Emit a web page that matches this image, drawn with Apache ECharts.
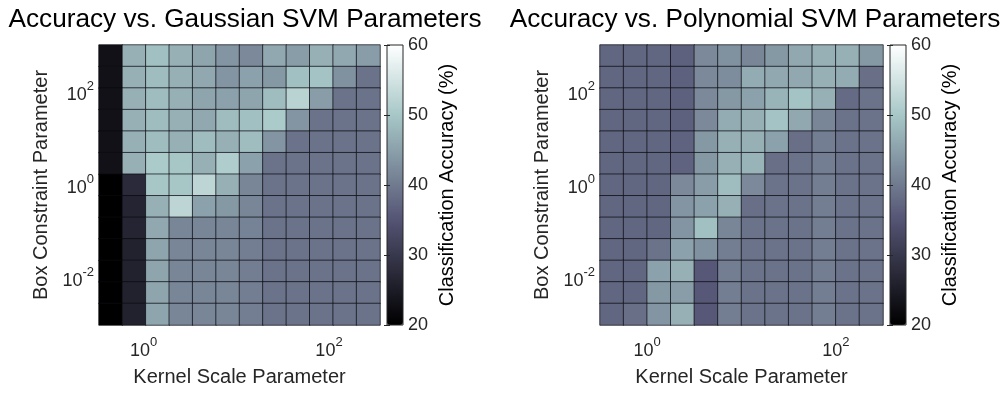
<!DOCTYPE html>
<html><head><meta charset="utf-8">
<script src="https://cdn.jsdelivr.net/npm/echarts@6/dist/echarts.min.js"></script>
<style>html,body{margin:0;padding:0;background:#fff}#c{width:1007px;height:393px}</style>
</head><body><div id="c"></div>
<script>
// ---- data ----
// kernel scale (cell centres)
const kernelScale = ['0.42','0.75','1.3','2.4','4.2','7.5','13','24','42','75','133','237'];
// box constraint (cell centres, bottom -> top)
const boxConstraint = ['0.0017','0.0049','0.014','0.041','0.12','0.35','1','2.9','8.4','24','70','203','588'];
const kernelRangeGauss = [-0.48, 2.55];   // log10 extent of kernel scale axis (left plot)
const kernelRangePoly = [-0.5, 2.5];      // log10 extent of kernel scale axis (right plot)
const boxRange = [-3, 3];                 // log10 extent of box constraint axis
const xTickExps = [0, 2];
const yTickExps = [-2, 0, 2];
const colorbarTicks = [20, 30, 40, 50, 60];

// Gaussian SVM accuracy (%) rows top (largest box constraint) -> bottom
const gaussRow0  = [23, 47, 49, 47, 45.5, 43.5, 42, 46, 44.5, 47, 46, 44.5];
const gaussRow1  = [23, 47, 48.5, 47, 46, 43.5, 45, 44, 49, 49.5, 43, 39];
const gaussRow2  = [23, 47, 48.5, 47, 45.5, 45, 45.5, 48.5, 52, 44.5, 39, 39];
const gaussRow3  = [23, 47, 48.5, 47, 46, 48.5, 49, 50.5, 43.5, 39, 39, 39];
const gaussRow4  = [23, 47, 48.5, 47, 48.5, 47, 48.5, 43.5, 39, 39, 39, 39];
const gaussRow5  = [23, 47, 50.5, 50, 47, 51, 45, 39, 39, 39, 39, 39];
const gaussRow6  = [20, 27.5, 50, 50, 52.5, 47, 41.5, 39, 39, 39, 39, 39];
const gaussRow7  = [20, 26.5, 47, 52.5, 45, 44, 41.5, 39, 39, 39, 39, 39];
const gaussRow8  = [20, 26.5, 46, 41.5, 41.5, 41.5, 41, 39, 39, 39, 39, 39];
const gaussRow9  = [20, 26, 45.5, 41.5, 41.5, 41.5, 40.5, 39, 39, 39, 39, 39];
const gaussRow10 = [20, 26, 45.5, 41.5, 41.5, 41.5, 40.5, 39, 39, 39, 39, 39];
const gaussRow11 = [20, 26, 45.5, 41.5, 41.5, 41.5, 40.5, 39, 39, 39, 39, 39];
const gaussRow12 = [20, 26, 45.5, 41.5, 41.5, 41.5, 40.5, 39, 39, 39, 39, 39];

// Polynomial SVM accuracy (%) rows top -> bottom
const polyRow0  = [37.5, 37.5, 37.5, 36.8, 42, 43, 41.5, 44, 46, 47, 47, 44];
const polyRow1  = [37.5, 37.5, 37.5, 36.8, 42, 42.5, 46.5, 46, 46, 47, 46.5, 38.5];
const polyRow2  = [37.5, 37.5, 37.5, 36.8, 42, 44, 45, 47.5, 49.5, 47, 38, 39];
const polyRow3  = [37.5, 37.5, 37.5, 36.8, 42, 46.5, 47, 49.5, 46, 41.5, 39, 39];
const polyRow4  = [37.5, 37.5, 37.5, 37, 44, 47, 47, 45, 38.5, 40.5, 39, 39];
const polyRow5  = [37.5, 37.5, 37.5, 37, 44, 47, 47.5, 38.5, 39, 40.5, 39, 39];
const polyRow6  = [37.5, 37.5, 37.5, 42, 44.5, 48.5, 42, 39, 39, 40.5, 39, 39];
const polyRow7  = [37.5, 37.5, 37.5, 43.5, 45, 47, 38.5, 39, 39, 40.5, 39, 39];
const polyRow8  = [37.5, 37.5, 37.5, 43.5, 49, 41.5, 39, 39, 39, 40.5, 39, 39];
const polyRow9  = [37.5, 37.5, 39, 45, 43, 40.5, 39, 39, 39, 40.5, 39, 39];
const polyRow10 = [37.5, 37.5, 45, 47, 35.5, 40.5, 39, 39, 39, 40.5, 39, 39];
const polyRow11 = [37.5, 37.5, 44, 44.5, 35.5, 40.5, 39, 39, 39, 40.5, 39, 39];
const polyRow12 = [37.5, 38.5, 43.5, 47, 35.5, 40.5, 39, 39, 39, 40.5, 39, 39];

const gaussRows = [gaussRow0,gaussRow1,gaussRow2,gaussRow3,gaussRow4,gaussRow5,gaussRow6,gaussRow7,gaussRow8,gaussRow9,gaussRow10,gaussRow11,gaussRow12];
const polyRows = [polyRow0,polyRow1,polyRow2,polyRow3,polyRow4,polyRow5,polyRow6,polyRow7,polyRow8,polyRow9,polyRow10,polyRow11,polyRow12];

// ---- helpers ----
function toCells(rows) {
  const out = [];
  const n = rows.length;
  rows.forEach((row, r) => row.forEach((v, c) => out.push([c, n - 1 - r, v])));
  return out;
}
// MATLAB "bone" colormap
function bone(t) {
  const hr = Math.min(1, t / 0.375);
  const hg = Math.min(1, Math.max(0, (t - 0.375) / 0.375));
  const hb = Math.min(1, Math.max(0, (t - 0.75) / 0.25));
  const f = x => Math.round(Math.min(1, x) * 255);
  return 'rgb(' + f((7 * t + hb) / 8) + ',' + f((7 * t + hg) / 8) + ',' + f((7 * t + hr) / 8) + ')';
}
const boneStops = [];
for (let i = 0; i <= 32; i++) boneStops.push(bone(i / 32));

function expLabel(shown) {
  return function (v) {
    const e = Math.log10(v);
    const r = Math.round(e);
    if (Math.abs(e - r) > 1e-6 || shown.indexOf(r) < 0) return '';
    return '{b|10}{s|' + r + '}';
  };
}
const FONT = 'Liberation Sans, Arial, Helvetica, sans-serif';
const richSup = {
  b: { fontSize: 18, fontFamily: FONT, color: '#262626', lineHeight: 24, verticalAlign: 'bottom' },
  s: { fontSize: 13, fontFamily: FONT, color: '#262626', lineHeight: 13, verticalAlign: 'top' }
};

const plots = [
  { left: 99, width: 281, cb: 387, title: 'Accuracy vs. Gaussian SVM Parameters', tx: 240, rows: gaussRows, kr: kernelRangeGauss },
  { left: 600, width: 283, cb: 890, title: 'Accuracy vs. Polynomial SVM Parameters', tx: 750, rows: polyRows, kr: kernelRangePoly }
];
const TOP = 45, H = 280;

const grid = [], xAxis = [], yAxis = [], series = [], visualMap = [], title = [];
plots.forEach((p, i) => {
  const g = grid.length;
  grid.push({ left: p.left, top: TOP, width: p.width, height: H, containLabel: false });
  const gc = grid.length;
  grid.push({ left: p.cb, top: TOP, width: 16, height: H, show: true, borderColor: '#262626', borderWidth: 1, backgroundColor: 'transparent', z: 10 });

  title.push({ text: p.title, left: p.tx, top: 2, textAlign: 'center',
    textStyle: { fontSize: 26.2, fontWeight: 'normal', color: '#000', fontFamily: FONT } });

  const xc = xAxis.length;
  xAxis.push({ gridIndex: g, type: 'category', data: kernelScale, show: false });
  xAxis.push({ gridIndex: g, type: 'log', logBase: 10, min: Math.pow(10, p.kr[0]), max: Math.pow(10, p.kr[1]),
    position: 'bottom', axisLine: { show: false }, axisTick: { show: false }, splitLine: { show: false },
    axisLabel: { formatter: expLabel(xTickExps), rich: richSup, margin: 11 },
    name: 'Kernel Scale Parameter', nameLocation: 'middle', nameGap: 42,
    nameTextStyle: { fontSize: 20, fontFamily: FONT, color: '#262626' } });
  xAxis.push({ gridIndex: gc, type: 'value', show: false, min: 0, max: 1 });

  const yc = yAxis.length;
  yAxis.push({ gridIndex: g, type: 'category', data: boxConstraint, show: false });
  yAxis.push({ gridIndex: g, type: 'log', logBase: 10, min: Math.pow(10, boxRange[0]), max: Math.pow(10, boxRange[1]),
    position: 'left', axisLine: { show: false }, axisTick: { show: false }, splitLine: { show: false },
    axisLabel: { formatter: expLabel(yTickExps), rich: richSup, margin: 5 },
    name: 'Box Constraint Parameter', nameLocation: 'middle', nameGap: 48, nameRotate: 90,
    nameTextStyle: { fontSize: 20, fontFamily: FONT, color: '#262626' } });
  yAxis.push({ gridIndex: gc, type: 'value', position: 'right', min: colorbarTicks[0], max: colorbarTicks[colorbarTicks.length - 1],
    interval: colorbarTicks[1] - colorbarTicks[0], z: 12,
    axisLine: { show: false }, splitLine: { show: false },
    axisTick: { show: true, inside: true, length: 3, lineStyle: { color: '#262626' } },
    axisLabel: { fontSize: 18, fontFamily: FONT, color: '#262626', margin: 5 },
    name: 'Classification Accuracy (%)', nameLocation: 'middle', nameGap: 34, nameRotate: 90,
    nameTextStyle: { fontSize: 20, fontFamily: FONT, color: '#000' } });
  yAxis.push({ gridIndex: gc, type: 'value', position: 'left', min: colorbarTicks[0], max: colorbarTicks[colorbarTicks.length - 1],
    interval: colorbarTicks[1] - colorbarTicks[0], z: 12,
    axisLine: { show: false }, splitLine: { show: false }, axisLabel: { show: false },
    axisTick: { show: true, inside: true, length: 3, lineStyle: { color: '#262626' } } });

  series.push({ type: 'heatmap', xAxisIndex: xc, yAxisIndex: yc, data: toCells(p.rows),
    itemStyle: { borderColor: 'rgba(10,10,15,0.7)', borderWidth: 1 },
    emphasis: { disabled: true }, progressive: 0 });

  visualMap.push({ type: 'continuous', seriesIndex: i, min: colorbarTicks[0], max: colorbarTicks[colorbarTicks.length - 1],
    left: p.cb, top: TOP, itemWidth: 16, itemHeight: H, padding: 0, calculable: false, hoverLink: false,
    text: null, inRange: { color: boneStops } });
});

const chart = echarts.init(document.getElementById('c'), null, { renderer: 'canvas' });
chart.setOption({ animation: false, backgroundColor: '#fff', title, grid, xAxis, yAxis, series, visualMap });
</script></body></html>
